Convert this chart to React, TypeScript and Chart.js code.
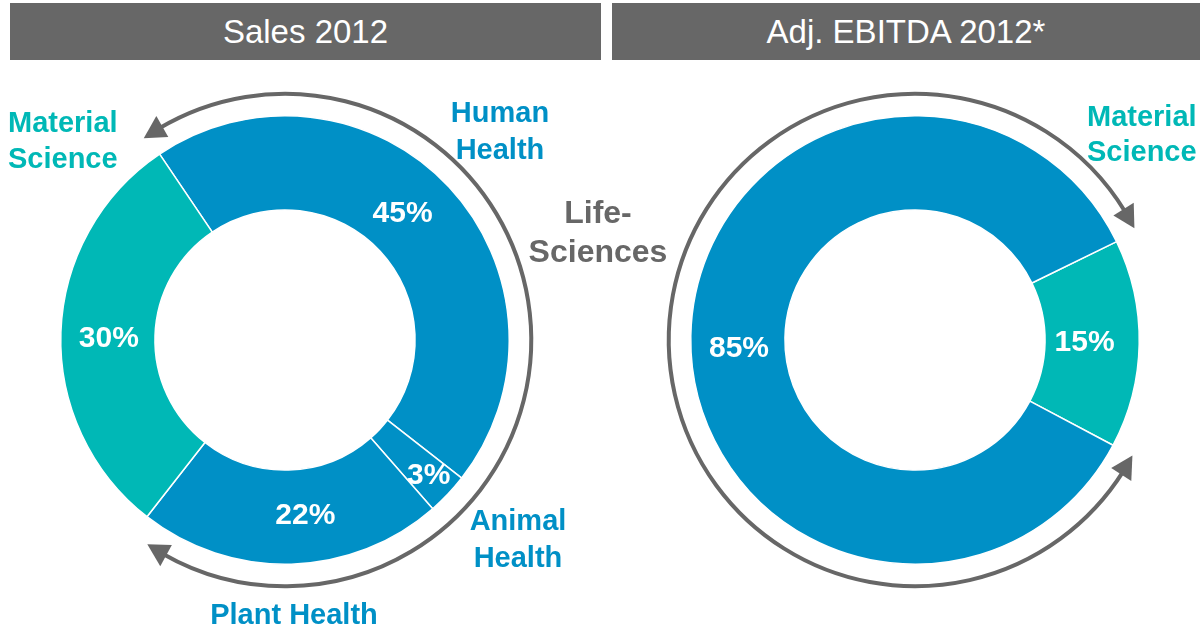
import React, { useEffect, useRef } from "react";
import { Chart, registerables } from "chart.js";

Chart.register(...registerables);

// ---- data ----
const salesCategories = ["Human Health", "Animal Health", "Plant Health", "Material Science"];
const salesValues = [45, 3, 22, 30];
const salesValueLabels = ["45%", "3%", "22%", "30%"];

const ebitdaCategories = ["Material Science", "Life-Sciences"];
const ebitdaValues = [15, 85];
const ebitdaValueLabels = ["15%", "85%"];

const headerTitles = ["Sales 2012", "Adj. EBITDA 2012*"];

// ---- styles ----
const BLUE = "#0090C6";
const TEAL = "#00B8B6";
const GRAY = "#676767";
const FONT = "'Liberation Sans', Arial, Helvetica, sans-serif";

const salesColors = [BLUE, BLUE, BLUE, TEAL];
const ebitdaColors = [TEAL, BLUE];

// label placement inside ring: r = fraction of ring thickness, da = angle shift (deg)
const salesLabelPlace = [
  { r: 0.45, da: -4 },
  { r: 0.72, da: 0 },
  { r: 0.5, da: -5 },
  { r: 0.49, da: -1.5 },
];
const ebitdaLabelPlace = [
  { r: 0.42, da: 0 },
  { r: 0.49, da: -4 },
];

const deg = Math.PI / 180;

function clockPt(cx: number, cy: number, r: number, a: number): [number, number] {
  const t = (a - 90) * deg;
  return [cx + r * Math.cos(t), cy + r * Math.sin(t)];
}

function drawHead(ctx: CanvasRenderingContext2D, cx: number, cy: number, R: number, tip: number, dir: number) {
  const len = 22;
  const half = 12;
  const base = tip - (dir * (len / R)) / deg;
  const [tx, ty] = clockPt(cx, cy, R, tip);
  const [ax, ay] = clockPt(cx, cy, R - half, base);
  const [bx, by] = clockPt(cx, cy, R + half, base);
  ctx.beginPath();
  ctx.moveTo(tx, ty);
  ctx.lineTo(ax, ay);
  ctx.lineTo(bx, by);
  ctx.closePath();
  ctx.fill();
}

function makeDecor(id: string, arcStart: number, arcEnd: number, texts: string[], place: { r: number; da: number }[]) {
  return {
    id,
    afterDatasetsDraw(chart: any) {
      const ctx: CanvasRenderingContext2D = chart.ctx;
      const meta = chart.getDatasetMeta(0);
      const first = meta.data[0];
      const cx = first.x;
      const cy = first.y;
      const outer = first.outerRadius;
      const R = outer + 22;
      ctx.save();
      // arc with arrow heads
      ctx.strokeStyle = GRAY;
      ctx.fillStyle = GRAY;
      ctx.lineWidth = 4;
      const d = 18 / R / deg;
      ctx.beginPath();
      ctx.arc(cx, cy, R, (arcStart + d - 90) * deg, (arcEnd - d - 90) * deg, false);
      ctx.stroke();
      drawHead(ctx, cx, cy, R, arcStart, -1);
      drawHead(ctx, cx, cy, R, arcEnd, 1);
      // value labels
      ctx.fillStyle = "#ffffff";
      ctx.font = `bold 30px ${FONT}`;
      ctx.textAlign = "center";
      ctx.textBaseline = "middle";
      meta.data.forEach((el: any, i: number) => {
        const p = el.getProps(["startAngle", "endAngle", "innerRadius", "outerRadius", "x", "y"], true);
        const mid = (p.startAngle + p.endAngle) / 2 + place[i].da * deg;
        const r = p.innerRadius + (p.outerRadius - p.innerRadius) * place[i].r;
        ctx.fillText(texts[i], p.x + r * Math.cos(mid), p.y + r * Math.sin(mid));
      });
      ctx.restore();
    },
  };
}

function Donut(props: {
  left: number;
  width: number;
  labels: string[];
  values: number[];
  colors: string[];
  rotation: number;
  padding: { left: number; right: number; top: number; bottom: number };
  plugin: any;
}) {
  const ref = useRef<HTMLCanvasElement | null>(null);
  useEffect(() => {
    if (!ref.current) return;
    const chart = new Chart(ref.current, {
      type: "doughnut",
      data: {
        labels: props.labels,
        datasets: [
          {
            data: props.values,
            backgroundColor: props.colors,
            borderColor: "#ffffff",
            borderWidth: 1.5,
            hoverOffset: 0,
          },
        ],
      },
      options: {
        responsive: false,
        animation: false,
        events: [],
        rotation: props.rotation,
        cutout: "58%",
        layout: { padding: props.padding },
        plugins: {
          legend: { display: false },
          tooltip: { enabled: false },
          title: { display: false },
        },
      },
      plugins: [props.plugin],
    } as any);
    return () => chart.destroy();
  }, []);
  return (
    <canvas
      ref={ref}
      width={props.width}
      height={568}
      style={{ position: "absolute", left: props.left, top: 60, width: props.width, height: 568 }}
    />
  );
}

function Label(props: {
  x: number;
  y: number;
  lines: string[];
  color: string;
  size: number;
  lh: number;
  align: "left" | "center";
}) {
  const w = 320;
  return (
    <div
      style={{
        position: "absolute",
        left: props.align === "center" ? props.x - w / 2 : props.x,
        top: props.y - props.lh / 2,
        width: w,
        textAlign: props.align,
        color: props.color,
        fontFamily: FONT,
        fontWeight: "bold",
        fontSize: props.size,
        lineHeight: `${props.lh}px`,
        whiteSpace: "nowrap",
      }}
    >
      {props.lines.map((l, i) => (
        <div key={i}>{l}</div>
      ))}
    </div>
  );
}

function Header(props: { left: number; width: number; text: string }) {
  return (
    <div
      style={{
        position: "absolute",
        left: props.left,
        top: 3,
        width: props.width,
        height: 57,
        background: GRAY,
        color: "#ffffff",
        fontFamily: FONT,
        fontSize: 33,
        display: "flex",
        alignItems: "center",
        justifyContent: "center",
      }}
    >
      {props.text}
    </div>
  );
}

const salesDecor = makeDecor("salesDecor", -35, 214, salesValueLabels, salesLabelPlace);
const ebitdaDecor = makeDecor("ebitdaDecor", 118, 423, ebitdaValueLabels, ebitdaLabelPlace);

export default function App() {
  return (
    <div
      style={{
        position: "absolute",
        left: 0,
        top: 0,
        width: 1202,
        height: 628,
        background: "#ffffff",
        overflow: "hidden",
      }}
    >
      <Header left={10} width={591} text={headerTitles[0]} />
      <Header left={612} width={588} text={headerTitles[1]} />
      <Donut
        left={0}
        width={600}
        labels={salesCategories}
        values={salesValues}
        colors={salesColors}
        rotation={-34}
        padding={{ left: 60, right: 90, top: 55, bottom: 63 }}
        plugin={salesDecor}
      />
      <Donut
        left={601}
        width={601}
        labels={ebitdaCategories}
        values={ebitdaValues}
        colors={ebitdaColors}
        rotation={64}
        padding={{ left: 89, right: 62, top: 55, bottom: 63 }}
        plugin={ebitdaDecor}
      />
      <Label x={8} y={122} lines={["Material", "Science"]} color={TEAL} size={29} lh={36} align="left" />
      <Label x={500} y={112} lines={["Human", "Health"]} color={BLUE} size={29} lh={37} align="center" />
      <Label x={518} y={520} lines={["Animal", "Health"]} color={BLUE} size={29} lh={37} align="center" />
      <Label x={294} y={614} lines={["Plant Health"]} color={BLUE} size={29} lh={36} align="center" />
      <Label x={598} y={212} lines={["Life-", "Sciences"]} color={GRAY} size={32} lh={39} align="center" />
      <Label x={1087} y={116} lines={["Material", "Science"]} color={TEAL} size={29} lh={35} align="left" />
    </div>
  );
}
